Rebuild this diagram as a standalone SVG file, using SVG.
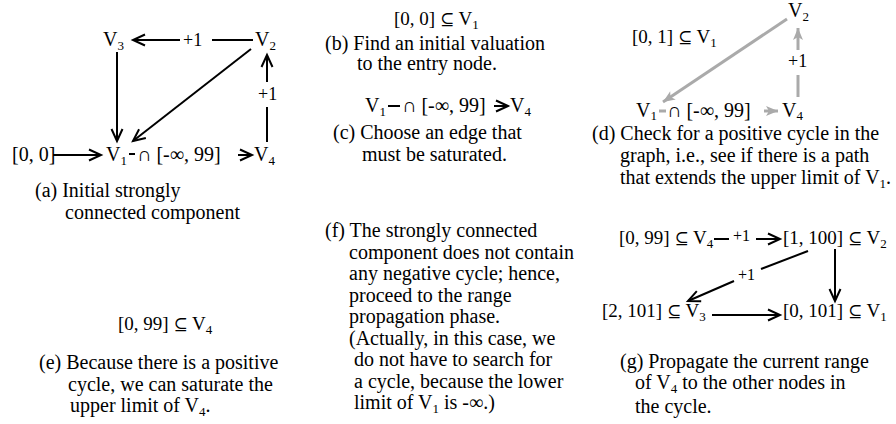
<svg xmlns="http://www.w3.org/2000/svg" width="896" height="424" viewBox="0 0 896 424">
<style>
text{font-family:"Liberation Serif","DejaVu Serif",serif;font-size:20px;fill:#000}
text.nd{font-size:19px}
.sub{font-size:13px}
.lbl{font-size:18px}
.sm{font-size:16px}
.ss{font-size:17px}
.c{stroke:#000;stroke-width:2;fill:none}
.g{stroke:#aaa;stroke-width:3;fill:none}
</style>
<defs>
<marker id="ah" markerWidth="14" markerHeight="14" refX="12" refY="5.5" orient="auto" markerUnits="userSpaceOnUse" overflow="visible"><path d="M0,0 L12,5.5 L0,11" fill="none" stroke="#000" stroke-width="2"/></marker>
<marker id="gh" markerWidth="14" markerHeight="14" refX="12" refY="5" orient="auto" markerUnits="userSpaceOnUse" overflow="visible"><path d="M0,0 L12,5 L0,10 L3,5 z" fill="#aaa"/></marker>
</defs>
<rect width="896" height="424" fill="#fff"/>

<g id="connectors">
<!-- (a) -->
<line class="c" x1="53" y1="155" x2="101" y2="155" marker-end="url(#ah)"/>
<line class="c" x1="129" y1="154" x2="135" y2="154"/>
<line class="c" x1="238" y1="155" x2="252" y2="155" marker-end="url(#ah)"/>
<line class="c" x1="117" y1="52" x2="117" y2="141" marker-end="url(#ah)"/>
<line class="c" x1="251" y1="49" x2="133" y2="141" marker-end="url(#ah)"/>
<line class="c" x1="267" y1="142" x2="267" y2="107"/>
<line class="c" x1="267" y1="82" x2="267" y2="55" marker-end="url(#ah)"/>
<line class="c" x1="253" y1="40" x2="212" y2="40"/>
<line class="c" x1="180" y1="40" x2="133" y2="40" marker-end="url(#ah)"/>
<!-- (c) -->
<line class="c" x1="388" y1="106" x2="400" y2="106"/>
<line class="c" x1="494" y1="106" x2="508" y2="106" marker-end="url(#ah)"/>
<!-- (d) -->
<line class="g" x1="787" y1="19" x2="663" y2="102" marker-end="url(#gh)"/>
<line class="g" x1="798" y1="97" x2="798" y2="75"/>
<line class="g" x1="798" y1="50" x2="798" y2="28" marker-end="url(#gh)"/>
<line class="g" x1="659" y1="111" x2="666" y2="111"/>
<line class="g" x1="764" y1="111" x2="778" y2="111" marker-end="url(#gh)"/>
<!-- (g) -->
<line class="c" x1="714" y1="239" x2="729" y2="239"/>
<line class="c" x1="756" y1="239" x2="780" y2="239" marker-end="url(#ah)"/>
<line class="c" x1="808" y1="251" x2="761" y2="269"/>
<line class="c" x1="734" y1="281" x2="688" y2="301" marker-end="url(#ah)"/>
<line class="c" x1="835" y1="249" x2="835" y2="301" marker-end="url(#ah)"/>
<line class="c" x1="712" y1="315" x2="780" y2="315" marker-end="url(#ah)"/>
</g>

<!-- panel (a) -->
<g id="a-V3"><text x="103" y="46">V<tspan class="sub" dy="4">3</tspan></text></g>
<g id="a-V2"><text x="255" y="46">V<tspan class="sub" dy="4">2</tspan></text></g>
<g id="a-V1"><text x="106" y="161">V<tspan class="sub" dy="4">1</tspan></text></g>
<g id="a-V4"><text x="254" y="161">V<tspan class="sub" dy="4">4</tspan></text></g>
<g id="a-init"><text x="12" y="161">[0, 0]</text></g>
<g id="a-cap"><text x="137" y="161">∩ [-∞, 99]</text></g>
<g id="a-l1"><text class="lbl" x="183" y="46">+1</text></g>
<g id="a-l2"><text class="lbl" x="258" y="100">+1</text></g>
<g id="a-caption"><text x="35" y="197">(a) Initial strongly</text><text x="65" y="219">connected component</text></g>

<!-- panel (b) -->
<g id="b-node"><text class="nd" x="394" y="25">[0, 0] <tspan class="ss">⊆</tspan> V<tspan class="sub" dy="4">1</tspan></text></g>
<g id="b-caption"><text x="325" y="50">(b) Find an initial valuation</text><text x="357" y="70">to the entry node.</text></g>

<!-- panel (c) -->
<g id="c-V1"><text x="365" y="112">V<tspan class="sub" dy="4">1</tspan></text></g>
<g id="c-cap"><text x="402" y="112">∩ [-∞, 99]</text></g>
<g id="c-V4"><text x="510" y="112">V<tspan class="sub" dy="4">4</tspan></text></g>
<g id="c-caption"><text x="333" y="139">(c) Choose an edge that</text><text x="362" y="161">must be saturated.</text></g>

<!-- panel (d) -->
<g id="d-V2"><text x="788" y="17">V<tspan class="sub" dy="4">2</tspan></text></g>
<g id="d-range"><text class="nd" x="632" y="43">[0, 1] <tspan class="ss">⊆</tspan> V<tspan class="sub" dy="4">1</tspan></text></g>
<g id="d-V1"><text x="636" y="117">V<tspan class="sub" dy="3">1</tspan></text></g>
<g id="d-cap"><text x="667" y="117">∩ [-∞, 99]</text></g>
<g id="d-V4"><text x="782" y="117">V<tspan class="sub" dy="3">4</tspan></text></g>
<g id="d-l1"><text class="lbl" x="788" y="67">+1</text></g>
<g id="d-caption"><text x="592" y="140">(d) Check for a positive cycle in the</text><text x="620" y="162">graph, i.e., see if there is a path</text><text x="620" y="184">that extends the upper limit of V<tspan class="sub" dy="4">1</tspan><tspan dy="-4">.</tspan></text></g>

<!-- panel (e) -->
<g id="e-node"><text class="nd" x="118" y="330">[0, 99] <tspan class="ss">⊆</tspan> V<tspan class="sub" dy="4">4</tspan></text></g>
<g id="e-caption"><text x="39" y="369">(e) Because there is a positive</text><text x="68" y="391">cycle, we can saturate the</text><text x="70" y="412">upper limit of V<tspan class="sub" dy="4">4</tspan><tspan dy="-4">.</tspan></text></g>

<!-- panel (f) -->
<g id="f-caption">
<text x="325" y="237">(f) The strongly connected</text>
<text x="349" y="258.5">component does not contain</text>
<text x="349" y="280">any negative cycle; hence,</text>
<text x="349" y="301.5">proceed to the range</text>
<text x="349" y="323">propagation phase.</text>
<text x="349" y="344.5">(Actually, in this case, we</text>
<text x="354" y="366">do not have to search for</text>
<text x="354" y="387.5">a cycle, because the lower</text>
<text x="354" y="409">limit of V<tspan class="sub" dy="4">1</tspan><tspan dy="-4"> is -∞.)</tspan></text>
</g>

<!-- panel (g) -->
<g id="g-V4"><text class="nd" x="619" y="244">[0, 99] <tspan class="ss">⊆</tspan> V<tspan class="sub" dy="4">4</tspan></text></g>
<g id="g-V2"><text class="nd" x="783" y="244">[1, 100] <tspan class="ss">⊆</tspan> V<tspan class="sub" dy="4">2</tspan></text></g>
<g id="g-V3"><text class="nd" x="602" y="317">[2, 101] <tspan class="ss">⊆</tspan> V<tspan class="sub" dy="4">3</tspan></text></g>
<g id="g-V1"><text class="nd" x="783" y="317">[0, 101] <tspan class="ss">⊆</tspan> V<tspan class="sub" dy="4">1</tspan></text></g>
<g id="g-l1"><text class="sm" x="733" y="241">+1</text></g>
<g id="g-l2"><text class="sm" x="738" y="280">+1</text></g>
<g id="g-caption"><text x="620" y="368">(g) Propagate the current range</text><text x="635" y="389">of V<tspan class="sub" dy="3.5">4</tspan><tspan dy="-3.5"> to the other nodes in</tspan></text><text x="635" y="413">the cycle.</text></g>
</svg>
